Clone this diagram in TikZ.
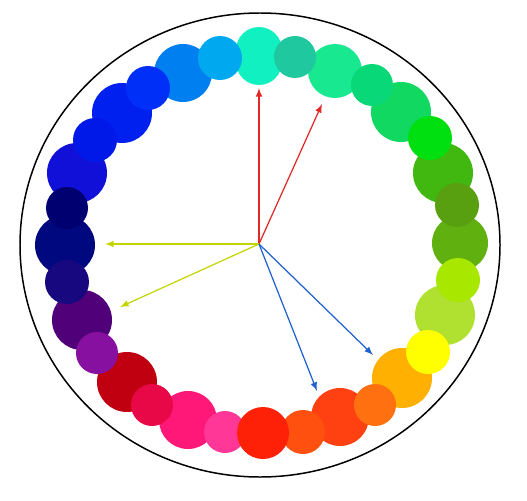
\documentclass[tikz,border=0pt]{standalone}
\usepackage{tikz}
\usepackage{xcolor}

\definecolor{redarrow}{HTML}{E02828}
\definecolor{yellowarrow}{HTML}{C4D400}
\definecolor{bluearrow}{HTML}{2060D0}
\definecolor{ringred}{HTML}{FF2008}

\tikzset{
    ring dot/.style={line width=0pt},
    hue arrow/.style={line width=0.7pt, -latex},
}

\begin{document}
\begin{tikzpicture}[x=0.02cm, y=-0.02cm]
            \useasboundingbox (0,0) rectangle (527,500);
            \draw[line width=0.85pt, black] (260,245) ellipse [x radius=240, y radius=232];
            % big dots
            \foreach \x/\y/\r/\c in {
                    259/50/23/10F0C0, 259/62/23/10F0C0, 335/71/27/18E890,
                    401/112/30/10D860, 443/173/30/40B810, 460/243/28/60B010,
                    445/315/30/B0E030, 402/378/30/FFB000, 340/417/29/FF4010,
                    188/420/29/FF1878, 127/382/30/C00010, 82/320/30/500078,
                    65/245/30/000880, 77/173/30/1010D8, 122/113/30/0020F0,
                    183/73/29/0080F0}
                {
                    \definecolor{dotcol}{HTML}{\c}
                    \fill[ring dot, dotcol] (\x,\y) circle[radius=\r];
                }
            % small dots
            \foreach \x/\y/\r/\c in {
                    220/58/22/00A8F0, 295/57/21/20C8A0, 372/85/21/08D878,
                    430/138/22/00E010, 457/205/22/58A010, 458/280/22/A8E800,
                    428/352/22/FFFF00, 375/405/21/FF7010, 303/432/22/FF5010,
                    225/432/21/FF3898, 152/405/21/E80848, 97/353/21/8810A0,
                    67/282/22/180880, 67/208/21/000070, 95/140/22/0018E8,
                    148/88/22/0030F8}
                {
                    \definecolor{dotcol}{HTML}{\c}
                    \fill[ring dot, dotcol] (\x,\y) circle[radius=\r];
                }
            \fill[ring dot, ringred] (263,433) circle[radius=26];
            % arrows from the middle
            \coordinate (o) at (259,244);
            \coordinate (r1) at (259,88);
            \coordinate (r2) at (322,104);
            \coordinate (y1) at (105,244);
            \coordinate (y2) at (120,307);
            \coordinate (b1) at (317,391);
            \coordinate (b2) at (373,355);
            \draw[hue arrow, redarrow] (o) -- (r1);
            \draw[hue arrow, redarrow] (o) -- (r2);
            \draw[hue arrow, yellowarrow] (o) -- (y1);
            \draw[hue arrow, yellowarrow] (o) -- (y2);
            \draw[hue arrow, bluearrow] (o) -- (b1);
            \draw[hue arrow, bluearrow] (o) -- (b2);
        \end{tikzpicture}
\end{document}
